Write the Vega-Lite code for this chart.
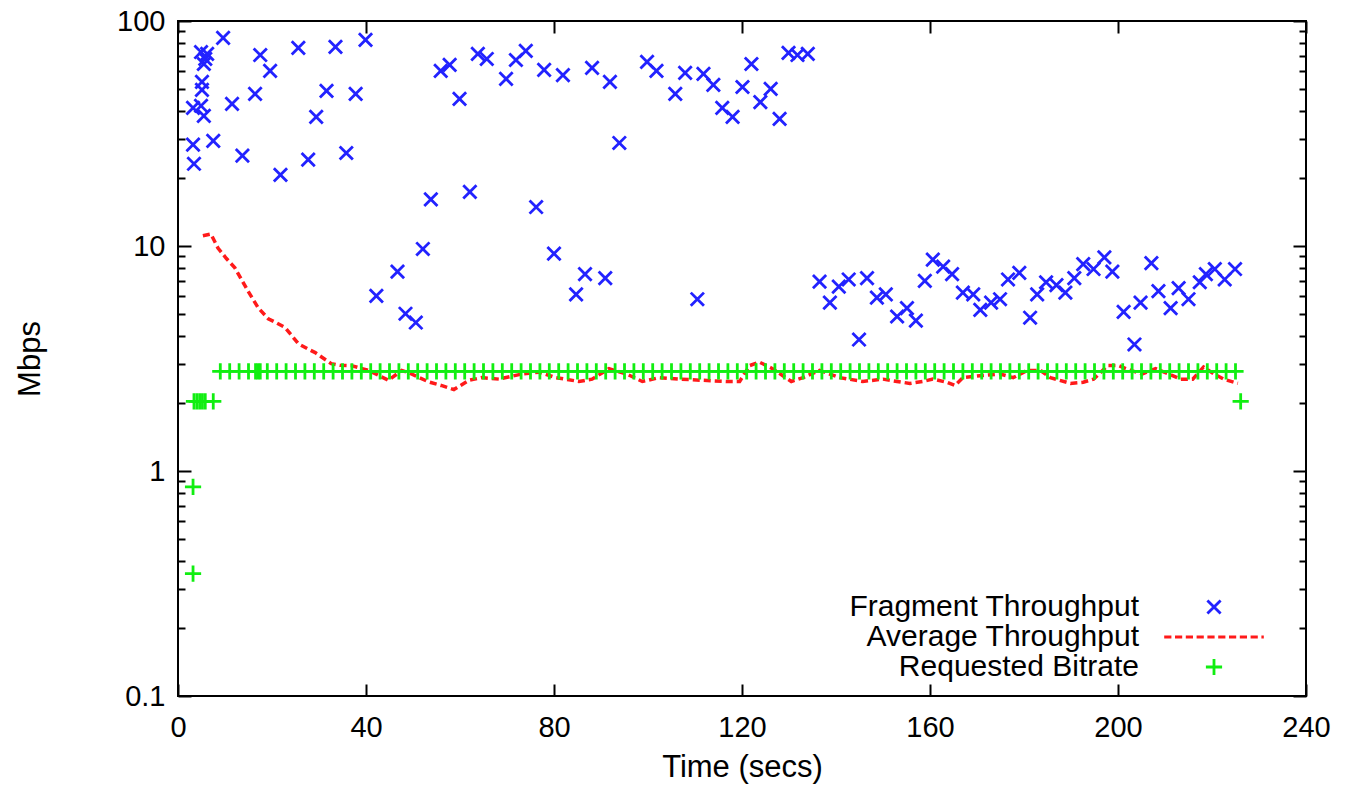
{
  "$schema": "https://vega.github.io/schema/vega-lite/v6.json",
  "width": 1128,
  "height": 675,
  "autosize": {"type": "none"},
  "padding": {"left": 178, "top": 21, "right": 41, "bottom": 92},
  "background": "white",
  "config": {
    "view": {"stroke": "#000", "strokeWidth": 2},
    "font": "Liberation Sans",
    "axis": {
      "labelFont": "Liberation Sans", "titleFont": "Liberation Sans",
      "labelColor": "#000", "titleColor": "#000", "tickColor": "#000",
      "tickWidth": 2, "domain": false, "grid": false, "titleFontWeight": "normal"
    },
    "legend": {
      "orient": "none", "legendX": 1021, "legendY": 571, "title": null,
      "labelFont": "Liberation Sans", "labelFontSize": 30, "labelColor": "#000",
      "labelAlign": "right", "labelOffset": -90, "labelLimit": 0,
      "symbolSize": 144, "symbolStrokeWidth": 2.8, "rowPadding": 0, "padding": 0
    }
  },
  "datasets": {
    "pts": [
      {"series": "Fragment Throughput", "t": 3.2, "v": 41.1},
      {"series": "Fragment Throughput", "t": 3.2, "v": 28.2},
      {"series": "Fragment Throughput", "t": 3.4, "v": 23.2},
      {"series": "Fragment Throughput", "t": 4.9, "v": 42.0},
      {"series": "Fragment Throughput", "t": 5.5, "v": 37.9},
      {"series": "Fragment Throughput", "t": 5.1, "v": 49.4},
      {"series": "Fragment Throughput", "t": 5.1, "v": 53.6},
      {"series": "Fragment Throughput", "t": 5.5, "v": 64.4},
      {"series": "Fragment Throughput", "t": 5.8, "v": 67.8},
      {"series": "Fragment Throughput", "t": 6.2, "v": 71.4},
      {"series": "Fragment Throughput", "t": 4.9, "v": 72.8},
      {"series": "Fragment Throughput", "t": 7.5, "v": 29.3},
      {"series": "Fragment Throughput", "t": 9.6, "v": 84.1},
      {"series": "Fragment Throughput", "t": 11.5, "v": 42.8},
      {"series": "Fragment Throughput", "t": 13.7, "v": 25.2},
      {"series": "Fragment Throughput", "t": 16.4, "v": 47.4},
      {"series": "Fragment Throughput", "t": 17.5, "v": 70.6},
      {"series": "Fragment Throughput", "t": 19.6, "v": 60.0},
      {"series": "Fragment Throughput", "t": 21.8, "v": 20.7},
      {"series": "Fragment Throughput", "t": 25.6, "v": 75.9},
      {"series": "Fragment Throughput", "t": 27.7, "v": 24.2},
      {"series": "Fragment Throughput", "t": 29.4, "v": 37.5},
      {"series": "Fragment Throughput", "t": 31.6, "v": 48.9},
      {"series": "Fragment Throughput", "t": 33.5, "v": 76.7},
      {"series": "Fragment Throughput", "t": 35.8, "v": 25.9},
      {"series": "Fragment Throughput", "t": 37.8, "v": 47.4},
      {"series": "Fragment Throughput", "t": 39.9, "v": 82.5},
      {"series": "Fragment Throughput", "t": 42.2, "v": 6.0},
      {"series": "Fragment Throughput", "t": 46.7, "v": 7.7},
      {"series": "Fragment Throughput", "t": 48.4, "v": 5.0},
      {"series": "Fragment Throughput", "t": 50.6, "v": 4.57},
      {"series": "Fragment Throughput", "t": 52.1, "v": 9.7},
      {"series": "Fragment Throughput", "t": 53.8, "v": 16.1},
      {"series": "Fragment Throughput", "t": 55.9, "v": 60.0},
      {"series": "Fragment Throughput", "t": 57.8, "v": 63.8},
      {"series": "Fragment Throughput", "t": 59.9, "v": 45.1},
      {"series": "Fragment Throughput", "t": 62.1, "v": 17.4},
      {"series": "Fragment Throughput", "t": 63.8, "v": 71.4},
      {"series": "Fragment Throughput", "t": 65.7, "v": 67.8},
      {"series": "Fragment Throughput", "t": 69.8, "v": 55.3},
      {"series": "Fragment Throughput", "t": 71.9, "v": 67.1},
      {"series": "Fragment Throughput", "t": 74.0, "v": 73.6},
      {"series": "Fragment Throughput", "t": 76.2, "v": 14.9},
      {"series": "Fragment Throughput", "t": 77.9, "v": 60.6},
      {"series": "Fragment Throughput", "t": 80.0, "v": 9.25},
      {"series": "Fragment Throughput", "t": 81.9, "v": 57.5},
      {"series": "Fragment Throughput", "t": 84.7, "v": 6.1},
      {"series": "Fragment Throughput", "t": 86.6, "v": 7.5},
      {"series": "Fragment Throughput", "t": 88.1, "v": 61.9},
      {"series": "Fragment Throughput", "t": 90.9, "v": 7.2},
      {"series": "Fragment Throughput", "t": 91.9, "v": 53.6},
      {"series": "Fragment Throughput", "t": 93.9, "v": 28.7},
      {"series": "Fragment Throughput", "t": 99.8, "v": 65.8},
      {"series": "Fragment Throughput", "t": 101.8, "v": 60.0},
      {"series": "Fragment Throughput", "t": 105.8, "v": 47.4},
      {"series": "Fragment Throughput", "t": 107.9, "v": 58.8},
      {"series": "Fragment Throughput", "t": 110.5, "v": 5.8},
      {"series": "Fragment Throughput", "t": 111.8, "v": 58.2},
      {"series": "Fragment Throughput", "t": 113.9, "v": 52.0},
      {"series": "Fragment Throughput", "t": 115.8, "v": 41.1},
      {"series": "Fragment Throughput", "t": 118.0, "v": 37.5},
      {"series": "Fragment Throughput", "t": 120.1, "v": 50.9},
      {"series": "Fragment Throughput", "t": 122.0, "v": 64.4},
      {"series": "Fragment Throughput", "t": 123.9, "v": 43.6},
      {"series": "Fragment Throughput", "t": 126.1, "v": 49.9},
      {"series": "Fragment Throughput", "t": 128.0, "v": 36.7},
      {"series": "Fragment Throughput", "t": 129.9, "v": 72.1},
      {"series": "Fragment Throughput", "t": 131.8, "v": 70.6},
      {"series": "Fragment Throughput", "t": 134.0, "v": 71.4},
      {"series": "Fragment Throughput", "t": 136.5, "v": 6.95},
      {"series": "Fragment Throughput", "t": 138.7, "v": 5.6},
      {"series": "Fragment Throughput", "t": 140.6, "v": 6.6},
      {"series": "Fragment Throughput", "t": 142.7, "v": 7.1},
      {"series": "Fragment Throughput", "t": 144.9, "v": 3.84},
      {"series": "Fragment Throughput", "t": 146.6, "v": 7.2},
      {"series": "Fragment Throughput", "t": 148.7, "v": 5.9},
      {"series": "Fragment Throughput", "t": 150.6, "v": 6.1},
      {"series": "Fragment Throughput", "t": 153.0, "v": 4.86},
      {"series": "Fragment Throughput", "t": 155.1, "v": 5.3},
      {"series": "Fragment Throughput", "t": 157.0, "v": 4.66},
      {"series": "Fragment Throughput", "t": 158.9, "v": 7.0},
      {"series": "Fragment Throughput", "t": 160.6, "v": 8.7},
      {"series": "Fragment Throughput", "t": 162.8, "v": 8.1},
      {"series": "Fragment Throughput", "t": 164.7, "v": 7.5},
      {"series": "Fragment Throughput", "t": 167.0, "v": 6.2},
      {"series": "Fragment Throughput", "t": 169.2, "v": 6.1},
      {"series": "Fragment Throughput", "t": 170.7, "v": 5.2},
      {"series": "Fragment Throughput", "t": 173.0, "v": 5.6},
      {"series": "Fragment Throughput", "t": 174.9, "v": 5.8},
      {"series": "Fragment Throughput", "t": 176.6, "v": 7.1},
      {"series": "Fragment Throughput", "t": 179.0, "v": 7.6},
      {"series": "Fragment Throughput", "t": 181.3, "v": 4.8},
      {"series": "Fragment Throughput", "t": 182.8, "v": 6.1},
      {"series": "Fragment Throughput", "t": 184.7, "v": 6.9},
      {"series": "Fragment Throughput", "t": 186.9, "v": 6.7},
      {"series": "Fragment Throughput", "t": 188.8, "v": 6.2},
      {"series": "Fragment Throughput", "t": 190.7, "v": 7.2},
      {"series": "Fragment Throughput", "t": 192.6, "v": 8.3},
      {"series": "Fragment Throughput", "t": 194.8, "v": 7.9},
      {"series": "Fragment Throughput", "t": 197.1, "v": 8.9},
      {"series": "Fragment Throughput", "t": 198.8, "v": 7.7},
      {"series": "Fragment Throughput", "t": 201.2, "v": 5.1},
      {"series": "Fragment Throughput", "t": 203.5, "v": 3.65},
      {"series": "Fragment Throughput", "t": 204.8, "v": 5.6},
      {"series": "Fragment Throughput", "t": 207.1, "v": 8.4},
      {"series": "Fragment Throughput", "t": 208.6, "v": 6.3},
      {"series": "Fragment Throughput", "t": 211.2, "v": 5.3},
      {"series": "Fragment Throughput", "t": 212.9, "v": 6.5},
      {"series": "Fragment Throughput", "t": 215.0, "v": 5.8},
      {"series": "Fragment Throughput", "t": 217.4, "v": 6.9},
      {"series": "Fragment Throughput", "t": 218.7, "v": 7.5},
      {"series": "Fragment Throughput", "t": 220.6, "v": 7.9},
      {"series": "Fragment Throughput", "t": 222.7, "v": 7.1},
      {"series": "Fragment Throughput", "t": 224.9, "v": 7.9},
      {"series": "Requested Bitrate", "t": 3.2, "v": 0.35},
      {"series": "Requested Bitrate", "t": 3.2, "v": 0.85},
      {"series": "Requested Bitrate", "t": 3.4, "v": 2.04},
      {"series": "Requested Bitrate", "t": 4.0, "v": 2.04},
      {"series": "Requested Bitrate", "t": 4.6, "v": 2.04},
      {"series": "Requested Bitrate", "t": 5.2, "v": 2.04},
      {"series": "Requested Bitrate", "t": 5.8, "v": 2.04},
      {"series": "Requested Bitrate", "t": 7.5, "v": 2.04},
      {"series": "Requested Bitrate", "t": 9, "v": 2.77},
      {"series": "Requested Bitrate", "t": 11, "v": 2.77},
      {"series": "Requested Bitrate", "t": 13, "v": 2.77},
      {"series": "Requested Bitrate", "t": 15, "v": 2.77},
      {"series": "Requested Bitrate", "t": 16.5, "v": 2.77},
      {"series": "Requested Bitrate", "t": 17, "v": 2.77},
      {"series": "Requested Bitrate", "t": 17.5, "v": 2.77},
      {"series": "Requested Bitrate", "t": 19, "v": 2.77},
      {"series": "Requested Bitrate", "t": 21, "v": 2.77},
      {"series": "Requested Bitrate", "t": 23, "v": 2.77},
      {"series": "Requested Bitrate", "t": 25, "v": 2.77},
      {"series": "Requested Bitrate", "t": 27, "v": 2.77},
      {"series": "Requested Bitrate", "t": 29, "v": 2.77},
      {"series": "Requested Bitrate", "t": 31, "v": 2.77},
      {"series": "Requested Bitrate", "t": 33, "v": 2.77},
      {"series": "Requested Bitrate", "t": 35, "v": 2.77},
      {"series": "Requested Bitrate", "t": 37, "v": 2.77},
      {"series": "Requested Bitrate", "t": 39, "v": 2.77},
      {"series": "Requested Bitrate", "t": 41, "v": 2.77},
      {"series": "Requested Bitrate", "t": 43, "v": 2.77},
      {"series": "Requested Bitrate", "t": 45, "v": 2.77},
      {"series": "Requested Bitrate", "t": 47, "v": 2.77},
      {"series": "Requested Bitrate", "t": 49, "v": 2.77},
      {"series": "Requested Bitrate", "t": 51, "v": 2.77},
      {"series": "Requested Bitrate", "t": 53, "v": 2.77},
      {"series": "Requested Bitrate", "t": 55, "v": 2.77},
      {"series": "Requested Bitrate", "t": 57, "v": 2.77},
      {"series": "Requested Bitrate", "t": 59, "v": 2.77},
      {"series": "Requested Bitrate", "t": 61, "v": 2.77},
      {"series": "Requested Bitrate", "t": 63, "v": 2.77},
      {"series": "Requested Bitrate", "t": 65, "v": 2.77},
      {"series": "Requested Bitrate", "t": 67, "v": 2.77},
      {"series": "Requested Bitrate", "t": 69, "v": 2.77},
      {"series": "Requested Bitrate", "t": 71, "v": 2.77},
      {"series": "Requested Bitrate", "t": 73, "v": 2.77},
      {"series": "Requested Bitrate", "t": 75, "v": 2.77},
      {"series": "Requested Bitrate", "t": 77, "v": 2.77},
      {"series": "Requested Bitrate", "t": 79, "v": 2.77},
      {"series": "Requested Bitrate", "t": 81, "v": 2.77},
      {"series": "Requested Bitrate", "t": 83, "v": 2.77},
      {"series": "Requested Bitrate", "t": 85, "v": 2.77},
      {"series": "Requested Bitrate", "t": 87, "v": 2.77},
      {"series": "Requested Bitrate", "t": 89, "v": 2.77},
      {"series": "Requested Bitrate", "t": 91, "v": 2.77},
      {"series": "Requested Bitrate", "t": 93, "v": 2.77},
      {"series": "Requested Bitrate", "t": 95, "v": 2.77},
      {"series": "Requested Bitrate", "t": 97, "v": 2.77},
      {"series": "Requested Bitrate", "t": 99, "v": 2.77},
      {"series": "Requested Bitrate", "t": 101, "v": 2.77},
      {"series": "Requested Bitrate", "t": 103, "v": 2.77},
      {"series": "Requested Bitrate", "t": 105, "v": 2.77},
      {"series": "Requested Bitrate", "t": 107, "v": 2.77},
      {"series": "Requested Bitrate", "t": 109, "v": 2.77},
      {"series": "Requested Bitrate", "t": 111, "v": 2.77},
      {"series": "Requested Bitrate", "t": 113, "v": 2.77},
      {"series": "Requested Bitrate", "t": 115, "v": 2.77},
      {"series": "Requested Bitrate", "t": 117, "v": 2.77},
      {"series": "Requested Bitrate", "t": 119, "v": 2.77},
      {"series": "Requested Bitrate", "t": 121, "v": 2.77},
      {"series": "Requested Bitrate", "t": 123, "v": 2.77},
      {"series": "Requested Bitrate", "t": 125, "v": 2.77},
      {"series": "Requested Bitrate", "t": 127, "v": 2.77},
      {"series": "Requested Bitrate", "t": 129, "v": 2.77},
      {"series": "Requested Bitrate", "t": 131, "v": 2.77},
      {"series": "Requested Bitrate", "t": 133, "v": 2.77},
      {"series": "Requested Bitrate", "t": 135, "v": 2.77},
      {"series": "Requested Bitrate", "t": 137, "v": 2.77},
      {"series": "Requested Bitrate", "t": 139, "v": 2.77},
      {"series": "Requested Bitrate", "t": 141, "v": 2.77},
      {"series": "Requested Bitrate", "t": 143, "v": 2.77},
      {"series": "Requested Bitrate", "t": 145, "v": 2.77},
      {"series": "Requested Bitrate", "t": 147, "v": 2.77},
      {"series": "Requested Bitrate", "t": 149, "v": 2.77},
      {"series": "Requested Bitrate", "t": 151, "v": 2.77},
      {"series": "Requested Bitrate", "t": 153, "v": 2.77},
      {"series": "Requested Bitrate", "t": 155, "v": 2.77},
      {"series": "Requested Bitrate", "t": 157, "v": 2.77},
      {"series": "Requested Bitrate", "t": 159, "v": 2.77},
      {"series": "Requested Bitrate", "t": 161, "v": 2.77},
      {"series": "Requested Bitrate", "t": 163, "v": 2.77},
      {"series": "Requested Bitrate", "t": 165, "v": 2.77},
      {"series": "Requested Bitrate", "t": 167, "v": 2.77},
      {"series": "Requested Bitrate", "t": 169, "v": 2.77},
      {"series": "Requested Bitrate", "t": 171, "v": 2.77},
      {"series": "Requested Bitrate", "t": 173, "v": 2.77},
      {"series": "Requested Bitrate", "t": 175, "v": 2.77},
      {"series": "Requested Bitrate", "t": 177, "v": 2.77},
      {"series": "Requested Bitrate", "t": 179, "v": 2.77},
      {"series": "Requested Bitrate", "t": 181, "v": 2.77},
      {"series": "Requested Bitrate", "t": 183, "v": 2.77},
      {"series": "Requested Bitrate", "t": 185, "v": 2.77},
      {"series": "Requested Bitrate", "t": 187, "v": 2.77},
      {"series": "Requested Bitrate", "t": 189, "v": 2.77},
      {"series": "Requested Bitrate", "t": 191, "v": 2.77},
      {"series": "Requested Bitrate", "t": 193, "v": 2.77},
      {"series": "Requested Bitrate", "t": 195, "v": 2.77},
      {"series": "Requested Bitrate", "t": 197, "v": 2.77},
      {"series": "Requested Bitrate", "t": 199, "v": 2.77},
      {"series": "Requested Bitrate", "t": 201, "v": 2.77},
      {"series": "Requested Bitrate", "t": 203, "v": 2.77},
      {"series": "Requested Bitrate", "t": 205, "v": 2.77},
      {"series": "Requested Bitrate", "t": 207, "v": 2.77},
      {"series": "Requested Bitrate", "t": 209, "v": 2.77},
      {"series": "Requested Bitrate", "t": 211, "v": 2.77},
      {"series": "Requested Bitrate", "t": 213, "v": 2.77},
      {"series": "Requested Bitrate", "t": 215, "v": 2.77},
      {"series": "Requested Bitrate", "t": 217, "v": 2.77},
      {"series": "Requested Bitrate", "t": 219, "v": 2.77},
      {"series": "Requested Bitrate", "t": 221, "v": 2.77},
      {"series": "Requested Bitrate", "t": 223, "v": 2.77},
      {"series": "Requested Bitrate", "t": 225, "v": 2.77},
      {"series": "Requested Bitrate", "t": 226.1, "v": 2.04}
    ],
    "avg": [
      {"t": 5.3, "v": 11.1}, {"t": 7.0, "v": 11.3}, {"t": 8.5, "v": 9.8}, {"t": 10.3, "v": 8.8},
      {"t": 12.1, "v": 8.0}, {"t": 14.9, "v": 6.3}, {"t": 17.1, "v": 5.3}, {"t": 19.2, "v": 4.75},
      {"t": 21.0, "v": 4.55}, {"t": 22.8, "v": 4.34}, {"t": 25.6, "v": 3.68}, {"t": 27.5, "v": 3.5},
      {"t": 29.2, "v": 3.36}, {"t": 32.6, "v": 3.0}, {"t": 34.5, "v": 2.95}, {"t": 36.9, "v": 2.94},
      {"t": 40.5, "v": 2.8}, {"t": 44.8, "v": 2.53}, {"t": 47.6, "v": 2.8}, {"t": 49.0, "v": 2.74},
      {"t": 53.3, "v": 2.49}, {"t": 56.0, "v": 2.4}, {"t": 58.7, "v": 2.3}, {"t": 61.9, "v": 2.53},
      {"t": 64.6, "v": 2.6}, {"t": 68.3, "v": 2.56}, {"t": 73.2, "v": 2.7}, {"t": 76.8, "v": 2.75},
      {"t": 80.4, "v": 2.6}, {"t": 85.3, "v": 2.5}, {"t": 88.1, "v": 2.56}, {"t": 91.7, "v": 2.85},
      {"t": 95.4, "v": 2.7}, {"t": 98.8, "v": 2.5}, {"t": 102.4, "v": 2.6}, {"t": 106.7, "v": 2.56},
      {"t": 111.6, "v": 2.53}, {"t": 116.7, "v": 2.5}, {"t": 119.5, "v": 2.5}, {"t": 121.6, "v": 2.94},
      {"t": 123.7, "v": 3.05}, {"t": 126.5, "v": 2.85}, {"t": 130.5, "v": 2.5}, {"t": 133.0, "v": 2.6},
      {"t": 136.5, "v": 2.8}, {"t": 140.8, "v": 2.6}, {"t": 145.7, "v": 2.5}, {"t": 150.0, "v": 2.56},
      {"t": 153.0, "v": 2.5}, {"t": 155.7, "v": 2.45}, {"t": 158.5, "v": 2.5}, {"t": 160.6, "v": 2.56},
      {"t": 163.6, "v": 2.48}, {"t": 165.3, "v": 2.4}, {"t": 167.0, "v": 2.6}, {"t": 171.3, "v": 2.66},
      {"t": 174.9, "v": 2.7}, {"t": 177.7, "v": 2.6}, {"t": 180.7, "v": 2.8}, {"t": 183.5, "v": 2.8},
      {"t": 185.6, "v": 2.6}, {"t": 189.9, "v": 2.45}, {"t": 192.6, "v": 2.48}, {"t": 194.8, "v": 2.56},
      {"t": 197.8, "v": 2.94}, {"t": 200.1, "v": 2.94}, {"t": 202.7, "v": 2.8}, {"t": 205.2, "v": 2.7},
      {"t": 208.0, "v": 2.85}, {"t": 210.8, "v": 2.7}, {"t": 213.3, "v": 2.56}, {"t": 215.9, "v": 2.56},
      {"t": 218.2, "v": 2.9}, {"t": 220.4, "v": 2.7}, {"t": 222.5, "v": 2.56}, {"t": 225.5, "v": 2.45}
    ]
  },
  "layer": [
    {
      "data": {"name": "avg"},
      "mark": {"type": "line", "color": "#ff1a1a", "strokeWidth": 3.5, "strokeDash": [7, 4]},
      "encoding": {
        "x": {
          "field": "t", "type": "quantitative",
          "scale": {"domain": [0, 240], "nice": false, "zero": false},
          "axis": {
            "orient": "bottom", "values": [0, 40, 80, 120, 160, 200, 240],
            "tickSize": -12, "labelPadding": 29, "labelFontSize": 29,
            "labelFlush": false, "labelOverlap": false,
            "title": "Time (secs)", "titleFontSize": 31, "titlePadding": 10
          }
        },
        "y": {
          "field": "v", "type": "quantitative",
          "scale": {"type": "log", "domain": [0.1, 100], "nice": false},
          "axis": {
            "orient": "left", "values": [0.1, 1, 10, 100], "format": "~g",
            "tickSize": -13, "labelPadding": 26, "labelFontSize": 29,
            "labelOverlap": false,
            "title": "Mbps", "titleFontSize": 31, "titlePadding": 70
          }
        }
      }
    },
    {
      "data": {"name": "pts"},
      "mark": {"type": "point", "filled": false, "strokeWidth": 2.8, "size": 144, "opacity": 1},
      "encoding": {
        "x": {
          "field": "t", "type": "quantitative",
          "axis": {
            "orient": "top", "values": [0, 40, 80, 120, 160, 200, 240],
            "tickSize": -12, "labels": false, "title": null
          }
        },
        "y": {
          "field": "v", "type": "quantitative",
          "axis": {
            "orient": "right", "values": [0.1, 1, 10, 100],
            "tickSize": -13, "labels": false, "title": null
          }
        },
        "color": {
          "field": "series", "type": "nominal",
          "scale": {
            "domain": ["Fragment Throughput", "Average Throughput", "Requested Bitrate"],
            "range": ["#2222ff", "#ff1a1a", "#11ee11"]
          },
          "legend": {"title": null}
        },
        "shape": {
          "field": "series", "type": "nominal",
          "scale": {
            "domain": ["Fragment Throughput", "Average Throughput", "Requested Bitrate"],
            "range": [
              "M-1.1,-1.1L1.1,1.1M1.1,-1.1L-1.1,1.1",
              "M-8.3,0L-7.1,0M-6.5,0L-5.3,0M-4.7,0L-3.5,0M-2.9,0L-1.7,0M-1.1,0L0.1,0M0.7,0L1.9,0M2.5,0L3.7,0M4.3,0L5.5,0M6.1,0L7.3,0M7.9,0L8.3,0",
              "M-1.35,0L1.35,0M0,-1.35L0,1.35"
            ]
          },
          "legend": {"title": null}
        }
      }
    },
    {
      "data": {"name": "avg"},
      "mark": {"type": "point", "opacity": 0},
      "encoding": {
        "x": {"field": "t", "type": "quantitative", "axis": null},
        "y": {
          "field": "v", "type": "quantitative",
          "axis": {
            "orient": "left",
            "values": [0.2, 0.3, 0.4, 0.5, 0.6, 0.7, 0.8, 0.9, 2, 3, 4, 5, 6, 7, 8, 9, 20, 30, 40, 50, 60, 70, 80, 90],
            "tickSize": -7, "labels": false, "title": null
          }
        }
      }
    },
    {
      "data": {"name": "avg"},
      "mark": {"type": "point", "opacity": 0},
      "encoding": {
        "x": {"field": "t", "type": "quantitative", "axis": null},
        "y": {
          "field": "v", "type": "quantitative",
          "axis": {
            "orient": "right",
            "values": [0.2, 0.3, 0.4, 0.5, 0.6, 0.7, 0.8, 0.9, 2, 3, 4, 5, 6, 7, 8, 9, 20, 30, 40, 50, 60, 70, 80, 90],
            "tickSize": -7, "labels": false, "title": null
          }
        }
      }
    }
  ],
  "resolve": {"axis": {"x": "independent", "y": "independent"}}
}
